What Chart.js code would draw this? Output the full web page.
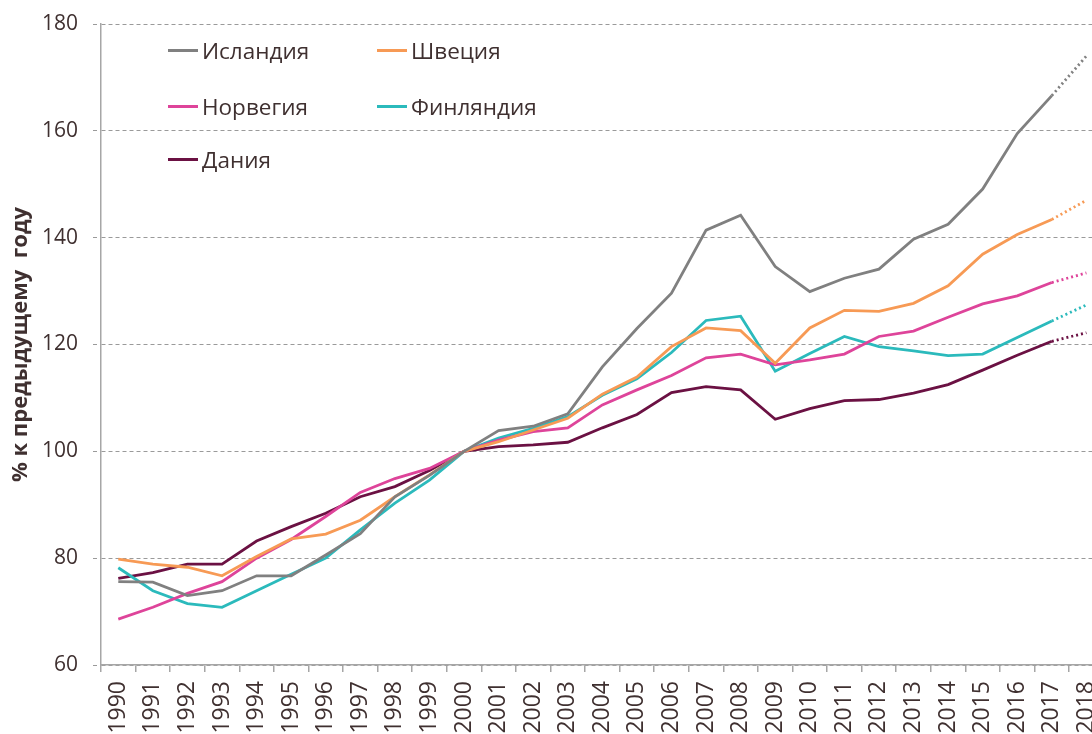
<!DOCTYPE html>
<html>
<head>
<meta charset="utf-8">
<script src="https://cdn.jsdelivr.net/npm/chart.js@4"></script>
<style>
  html, body { margin: 0; padding: 0; background: #fff; }
  body { width: 1092px; height: 734px; overflow: hidden; position: relative; }
  #wrap { position: absolute; left: 0; top: 0; width: 1123px; height: 734px; }
  #legend { position: absolute; left: 0; top: 0; font-family: "Open Sans", sans-serif; font-size: 22.5px; color: #3f3030; }
  .item { position: absolute; display: flex; align-items: center; white-space: nowrap; }
  .swatch { width: 30px; height: 3px; margin-right: 4px; }
</style>
</head>
<body>
<div id="wrap"><canvas id="chart"></canvas></div>
<div id="legend"></div>
<script>
// Years on the x axis (2018 is an estimate, drawn dotted)
const years = [
  "1990", "1991", "1992", "1993", "1994", "1995", "1996", "1997", "1998", "1999",
  "2000", "2001", "2002", "2003", "2004", "2005", "2006", "2007", "2008", "2009",
  "2010", "2011", "2012", "2013", "2014", "2015", "2016", "2017", "2018"
];

// Index values, 2000 = 100
const iceland = [75.6, 75.5, 73.0, 73.9, 76.7, 76.7, 80.6, 84.6, 91.5, 95.5,
  100, 103.9, 104.7, 107.0, 115.8, 123.0, 129.6, 141.4, 144.2, 134.6,
  129.9, 132.4, 134.1, 139.7, 142.5, 149.1, 159.5, 166.6, 174.0];
const sweden = [79.8, 78.9, 78.3, 76.7, 80.3, 83.6, 84.5, 87.1, 91.5, 95.6,
  100, 101.8, 104.0, 106.2, 110.7, 113.9, 119.6, 123.1, 122.6, 116.5,
  123.1, 126.4, 126.2, 127.7, 131.0, 136.9, 140.6, 143.4, 147.0];
const norway = [68.6, 70.8, 73.4, 75.6, 80.0, 83.5, 87.8, 92.3, 94.9, 96.8,
  100, 102.1, 103.7, 104.4, 108.7, 111.5, 114.2, 117.5, 118.2, 116.2,
  117.1, 118.2, 121.5, 122.5, 125.1, 127.6, 129.1, 131.6, 133.4];
const finland = [78.2, 73.9, 71.5, 70.8, 73.9, 77.0, 80.0, 85.3, 90.3, 94.6,
  100, 102.5, 104.3, 106.5, 110.5, 113.6, 118.5, 124.5, 125.3, 115.0,
  118.3, 121.5, 119.6, 118.8, 117.9, 118.2, 121.3, 124.4, 127.4];
const denmark = [76.2, 77.3, 78.9, 78.9, 83.2, 85.9, 88.4, 91.5, 93.4, 96.4,
  100, 100.9, 101.2, 101.7, 104.4, 106.9, 111.0, 112.1, 111.5, 106.0,
  108.0, 109.5, 109.7, 110.9, 112.5, 115.2, 118.0, 120.6, 122.2];

const seriesNames = ["Исландия", "Швеция", "Норвегия", "Финляндия", "Дания"];
const seriesColors = ["#808080", "#f79a55", "#de449a", "#2bbabc", "#6b1143"];
const seriesValues = [iceland, sweden, norway, finland, denmark];

const textColor = "#3f3030";
const lastIndex = years.length - 1;

const datasets = seriesNames.map((name, i) => ({
  label: name,
  data: seriesValues[i],
  borderColor: seriesColors[i],
  backgroundColor: seriesColors[i],
  borderWidth: 2.8,
  pointRadius: 0,
  tension: 0,
  segment: {
    // forecast segment is dotted
    borderDash: (ctx) => (ctx.p1DataIndex === lastIndex ? [2, 3] : undefined)
  }
}));

// legend drawn inside the plot, two columns like the original
const legendPos = [
  [168, 50], [377, 50],
  [168, 106], [377, 106],
  [168, 159]
];
const legendEl = document.getElementById("legend");
seriesNames.forEach((name, i) => {
  const item = document.createElement("div");
  item.className = "item";
  item.style.left = legendPos[i][0] + "px";
  item.style.top = (legendPos[i][1] - 15) + "px";
  item.style.height = "30px";
  item.innerHTML = '<span class="swatch" style="background:' + seriesColors[i] + '"></span>' + name;
  legendEl.appendChild(item);
});

Chart.defaults.font.family = "'Open Sans', sans-serif";
Chart.defaults.color = textColor;

const ctx = document.getElementById("chart").getContext("2d");
const chart = new Chart(ctx, {
  type: "line",
  data: { labels: years, datasets: datasets },
  options: {
    responsive: true,
    maintainAspectRatio: false,
    animation: false,
    layout: { padding: { top: 24, right: 0, bottom: 0, left: 0 } },
    plugins: {
      legend: { display: false },
      tooltip: { enabled: false }
    },
    scales: {
      x: {
        offset: true,
        grid: {
          offset: true,
          drawOnChartArea: false,
          tickLength: 7,
          color: "#a6a6a6",
          lineWidth: 1.5
        },
        border: { color: "#a6a6a6", width: 1.5 },
        ticks: {
          autoSkip: false,
          maxRotation: 90,
          minRotation: 90,
          padding: 9,
          font: { size: 23 },
          color: textColor
        },
        afterFit: (scale) => { scale.height = 69; }
      },
      y: {
        min: 60,
        max: 180,
        ticks: {
          stepSize: 20,
          padding: 15,
          font: { size: 21 },
          color: textColor
        },
        grid: {
          color: "#9a9a9a",
          lineWidth: 1,
          tickLength: 8,
          tickBorderDash: [4, 3]
        },
        border: { color: "#a6a6a6", width: 1.5, dash: [4, 3] },
        title: {
          display: true,
          text: "% к предыдущему  году",
          font: { size: 22, weight: "bold" },
          color: textColor,
          padding: { top: 8, bottom: 0 }
        },
        afterFit: (scale) => {
          scale.width = 101;
          scale.paddingTop = 0;
          scale.paddingBottom = 0;
        }
      }
    }
  }
});
</script>
</body>
</html>
